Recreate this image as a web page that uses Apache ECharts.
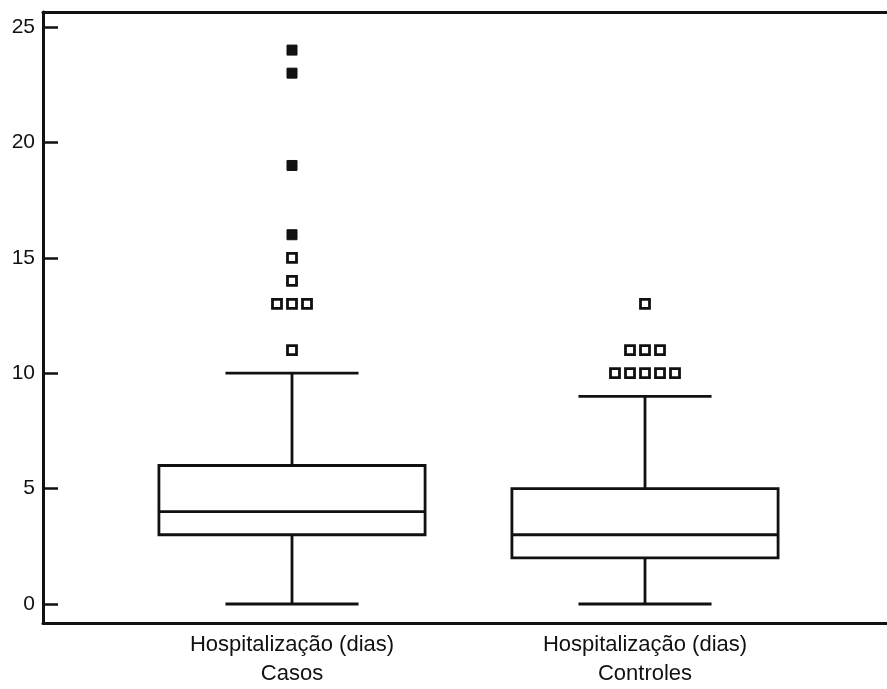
<!DOCTYPE html>
<html>
<head>
<meta charset="utf-8">
<script src="https://cdn.jsdelivr.net/npm/echarts@6/dist/echarts.min.js"></script>
<style>
  html, body { margin: 0; padding: 0; background: #fff; }
  #chart { width: 887px; height: 689px; }
</style>
</head>
<body>
<div id="chart"></div>
<script>
// Length of hospital stay (days): cases vs. controls
const categories = ['Hospitalização (dias)\nCasos', 'Hospitalização (dias)\nControles'];

// Five-number summaries: [lower whisker, Q1, median, Q3, upper whisker]
const casosBox = [0, 3, 4, 6, 10];
const controlesBox = [0, 2, 3, 5, 9];

// Outliers (open squares) and extreme values (filled squares)
const casosOutliers = [15, 14, 13, 13, 13, 11];
const casosExtremes = [24, 23, 19, 16];
const controlesOutliers = [13, 11, 11, 11, 10, 10, 10, 10, 10];
const controlesExtremes = [];

const yTicks = [0, 5, 10, 15, 20, 25];

const INK = '#111';
const LINE_W = 2.8;
const BOX_FRAC = 0.754;  // box width as a share of the category band
const STEP = 15;         // horizontal spacing between tied points, px
const FONT = 'Liberation Sans, Arial, sans-serif';

// Spread points sharing the same value side by side
function spread(catIndex, values) {
  const counts = {};
  values.forEach(v => { counts[v] = (counts[v] || 0) + 1; });
  const seen = {};
  return values.map(v => {
    const k = seen[v] || 0;
    seen[v] = k + 1;
    const off = (k - (counts[v] - 1) / 2) * STEP;
    return { value: [catIndex, v], symbolOffset: [off, 0] };
  });
}

// Box with whiskers; whisker caps are half the box width
function renderBox(params, api) {
  const x = api.value(0);
  const pLow = api.coord([x, api.value(1)]);
  const pQ1 = api.coord([x, api.value(2)]);
  const pMed = api.coord([x, api.value(3)]);
  const pQ3 = api.coord([x, api.value(4)]);
  const pHigh = api.coord([x, api.value(5)]);
  const band = api.size([1, 0])[0];
  const half = band * BOX_FRAC / 2;
  const cap = half / 2;
  const cx = pMed[0];
  const style = { stroke: INK, lineWidth: LINE_W, fill: null };
  const line = (x1, y1, x2, y2) => ({ type: 'line', shape: { x1, y1, x2, y2 }, style });
  return {
    type: 'group',
    children: [
      line(cx, pQ3[1], cx, pHigh[1]),
      line(cx, pQ1[1], cx, pLow[1]),
      line(cx - cap, pHigh[1], cx + cap, pHigh[1]),
      line(cx - cap, pLow[1], cx + cap, pLow[1]),
      { type: 'rect', shape: { x: cx - half, y: pQ3[1], width: half * 2, height: pQ1[1] - pQ3[1] },
        style: { stroke: INK, lineWidth: LINE_W, fill: '#fff' } },
      line(cx - half, pMed[1], cx + half, pMed[1])
    ]
  };
}

const openStyle = { color: '#fff', borderColor: INK, borderWidth: 2.8, opacity: 1 };
const filledStyle = { color: INK, borderColor: INK, borderWidth: 1, opacity: 1 };
const frameLine = { show: true, lineStyle: { color: INK, width: 3 } };

const chart = echarts.init(document.getElementById('chart'), null, { renderer: 'canvas' });

chart.setOption({
  animation: false,
  backgroundColor: '#fff',
  grid: [
    // frame: left, bottom and top edges
    { left: 43, top: 12, right: 0, bottom: 66 },
    // data area
    { left: 115.5, right: 65.5, top: 27, bottom: 85 }
  ],
  xAxis: [
    { gridIndex: 0, type: 'value', min: 0, max: 1, position: 'bottom',
      axisLine: frameLine, axisTick: { show: false }, axisLabel: { show: false }, splitLine: { show: false } },
    { gridIndex: 1, type: 'category', data: categories,
      axisLine: { show: false }, axisTick: { show: false },
      axisLabel: { color: INK, fontSize: 22, fontFamily: FONT,
                   lineHeight: 29, margin: 26, interval: 0 },
      splitLine: { show: false } },
    { gridIndex: 0, type: 'value', min: 0, max: 1, position: 'top',
      axisLine: frameLine, axisTick: { show: false }, axisLabel: { show: false }, splitLine: { show: false } }
  ],
  yAxis: [
    { gridIndex: 0, type: 'value', min: 0, max: 1, position: 'left',
      axisLine: frameLine, axisTick: { show: false }, axisLabel: { show: false }, splitLine: { show: false } },
    { gridIndex: 1, type: 'value', min: yTicks[0], max: yTicks[yTicks.length - 1],
      interval: yTicks[1] - yTicks[0], offset: 72.5,
      axisLine: { show: false },
      axisTick: { show: true, inside: true, length: 15, lineStyle: { color: INK, width: 2.5 } },
      axisLabel: { color: INK, fontSize: 21, fontFamily: FONT, margin: 8 },
      splitLine: { show: false } }
  ],
  series: [
    {
      type: 'custom',
      xAxisIndex: 1, yAxisIndex: 1,
      renderItem: renderBox,
      encode: { x: 0, y: [1, 2, 3, 4, 5] },
      data: [[0].concat(casosBox), [1].concat(controlesBox)]
    },
    {
      type: 'scatter', xAxisIndex: 1, yAxisIndex: 1,
      symbol: 'rect', symbolSize: 9, itemStyle: openStyle,
      emphasis: { disabled: true },
      data: spread(0, casosOutliers).concat(spread(1, controlesOutliers))
    },
    {
      type: 'scatter', xAxisIndex: 1, yAxisIndex: 1,
      symbol: 'rect', symbolSize: 10, itemStyle: filledStyle,
      emphasis: { disabled: true },
      data: spread(0, casosExtremes).concat(spread(1, controlesExtremes))
    }
  ]
});
</script>
</body>
</html>
